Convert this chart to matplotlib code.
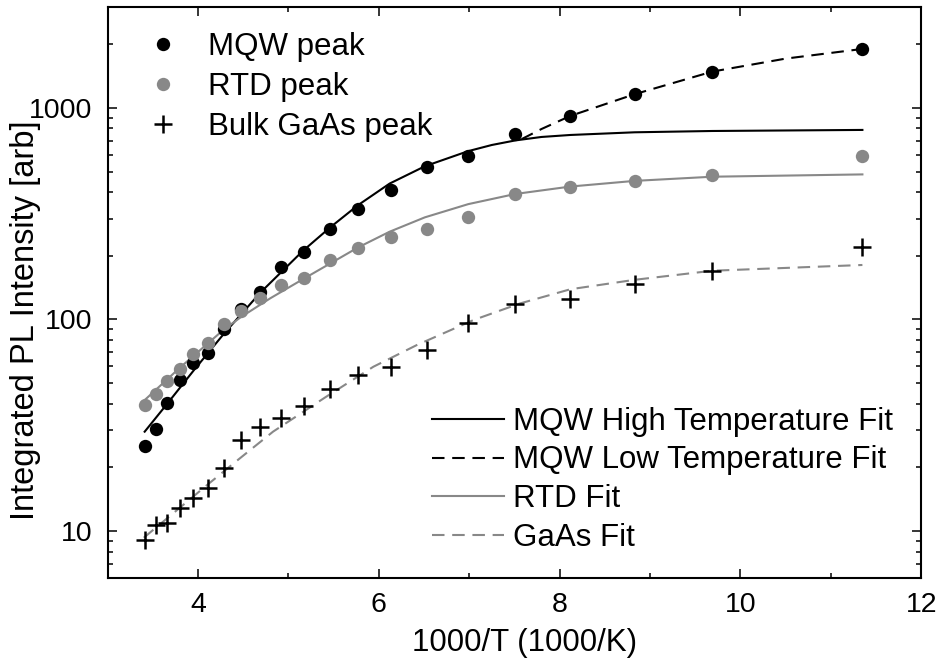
import matplotlib
matplotlib.use("Agg")
import matplotlib.pyplot as plt
from matplotlib.ticker import LogLocator, MultipleLocator, NullFormatter

plt.rcParams['font.family'] = ['Liberation Sans', 'DejaVu Sans']

#----------------------------------------------------------------------------------
#measured points (x = 1000/T)

inv_temp = [3.41, 3.53, 3.66, 3.80, 3.95, 4.11, 4.29, 4.48, 4.69, 4.92, 5.17,
            5.46, 5.77, 6.13, 6.53, 6.99, 7.51, 8.12, 8.83, 9.69, 11.35]
mqw_peak = [25.3, 30.5, 40.5, 51.5, 62.5, 69.5, 90, 112, 135, 177, 209,
            267, 333, 410, 526, 594, 755, 917, 1161, 1485, 1900]
rtd_peak = [39.4, 44.3, 51.2, 58.3, 68.4, 77.6, 95, 110, 126, 146, 157,
            191, 218, 245, 268, 306, 392, 422, 452, 482, 593]
gaas_peak = [9.06, 10.7, 10.9, 12.8, 14.4, 15.9, 19.8, 26.9, 31.1, 34.2, 39.0,
             46.8, 54.7, 59.8, 71.8, 96.6, 119, 125, 147, 170, 219]

#fit curves
mqw_hi_x = [3.41, 3.66, 3.96, 4.29, 4.69, 5.16, 5.46, 5.77, 6.12, 6.51, 6.99,
            7.25, 7.51, 7.8, 8.12, 8.83, 9.69, 11.35]
mqw_hi_y = [29.5, 40, 58, 86, 134, 211, 272, 347, 439, 530, 625,
            668, 702, 729, 745, 767, 778, 787]

mqw_lo_x = [7.58, 7.8, 8.12, 8.83, 9.69, 10.5, 11.35]
mqw_lo_y = [712, 795, 917, 1161, 1485, 1710, 1900]

rtd_fit_x = [3.41, 3.79, 4.29, 4.48, 4.80, 5.16, 5.77, 6.12, 6.51, 6.99, 7.51,
             8.12, 8.83, 9.69, 11.35]
rtd_fit_y = [41.6, 58.7, 90, 103, 126, 155, 219, 260, 304, 351, 392,
             425, 452, 473, 485]

gaas_fit_x = [3.40, 4.10, 4.43, 4.83, 5.42, 5.94, 6.42, 7.05, 7.56, 8.12,
              8.83, 9.69, 11.35]
gaas_fit_y = [9.3, 16.5, 21.5, 29.5, 43.2, 59.8, 75.7, 99.5, 119, 139,
              154, 170, 181]

gray = "#888888"

#----------------------------------------------------------------------------------

fig = plt.figure(figsize=(9.39, 6.64), dpi=100)
ax = fig.add_axes([0.1146, 0.1295, 0.8664, 0.86])

l_hi, = ax.plot(mqw_hi_x, mqw_hi_y, color="black", lw=1.5, label="MQW High Temperature Fit")
l_lo, = ax.plot(mqw_lo_x, mqw_lo_y, color="black", lw=1.5, ls=(0, (6, 3.7)), label="MQW Low Temperature Fit")
l_rtd, = ax.plot(rtd_fit_x, rtd_fit_y, color=gray, lw=1.5, label="RTD Fit")
l_gaas, = ax.plot(gaas_fit_x, gaas_fit_y, color=gray, lw=1.5, ls=(0, (6, 3.7)), label="GaAs Fit")

p_mqw, = ax.plot(inv_temp, mqw_peak, ls="none", marker="o", ms=9.6, color="black", mec="none", label="MQW peak")
p_rtd, = ax.plot(inv_temp, rtd_peak, ls="none", marker="o", ms=9.6, color=gray, mec="none", label="RTD peak")
p_gaas, = ax.plot(inv_temp, gaas_peak, ls="none", marker="+", ms=12.5, mew=1.8, color="black", label="Bulk GaAs peak")

ax.set_yscale("log")
ax.set_xlim(3, 12)
ax.set_ylim(6, 3000)

ax.xaxis.set_major_locator(MultipleLocator(2))
ax.xaxis.set_minor_locator(MultipleLocator(1))
ax.yaxis.set_minor_locator(LogLocator(base=10, subs=range(2, 10), numticks=20))
ax.yaxis.set_minor_formatter(NullFormatter())
ax.set_yticks([10, 100, 1000])
ax.set_yticklabels(["10", "100", "1000"])

ax.tick_params(which="both", direction="in", top=True, right=True, width=1.1)
ax.tick_params(which="major", length=6.5, labelsize=20.5)
ax.tick_params(which="minor", length=3.5)
ax.tick_params(axis="x", pad=10)
ax.tick_params(axis="y", pad=11)
for s in ax.spines.values():
    s.set_linewidth(1.5)

ax.set_xlabel("1000/T (1000/K)", fontsize=22.5)
ax.set_ylabel("Integrated PL Intensity [arb]", fontsize=23.5)
ax.xaxis.set_label_coords(0.513, -0.087)
ax.yaxis.set_label_coords(-0.082, 0.452)

leg1 = ax.legend(handles=[p_mqw, p_rtd, p_gaas], loc="upper left", bbox_to_anchor=(0.0484, 0.957),
                 frameon=False, fontsize=22.5, borderpad=0, borderaxespad=0,
                 handlelength=1.0, handletextpad=0.95, labelspacing=0.32)
ax.add_artist(leg1)
ax.legend(handles=[l_hi, l_lo, l_rtd, l_gaas], loc="upper left", bbox_to_anchor=(0.3985, 0.300),
          frameon=False, fontsize=22.5, borderpad=0, borderaxespad=0,
          handlelength=2.3, handletextpad=0.3, labelspacing=0.28)

fig.savefig("out.png", dpi=100)
